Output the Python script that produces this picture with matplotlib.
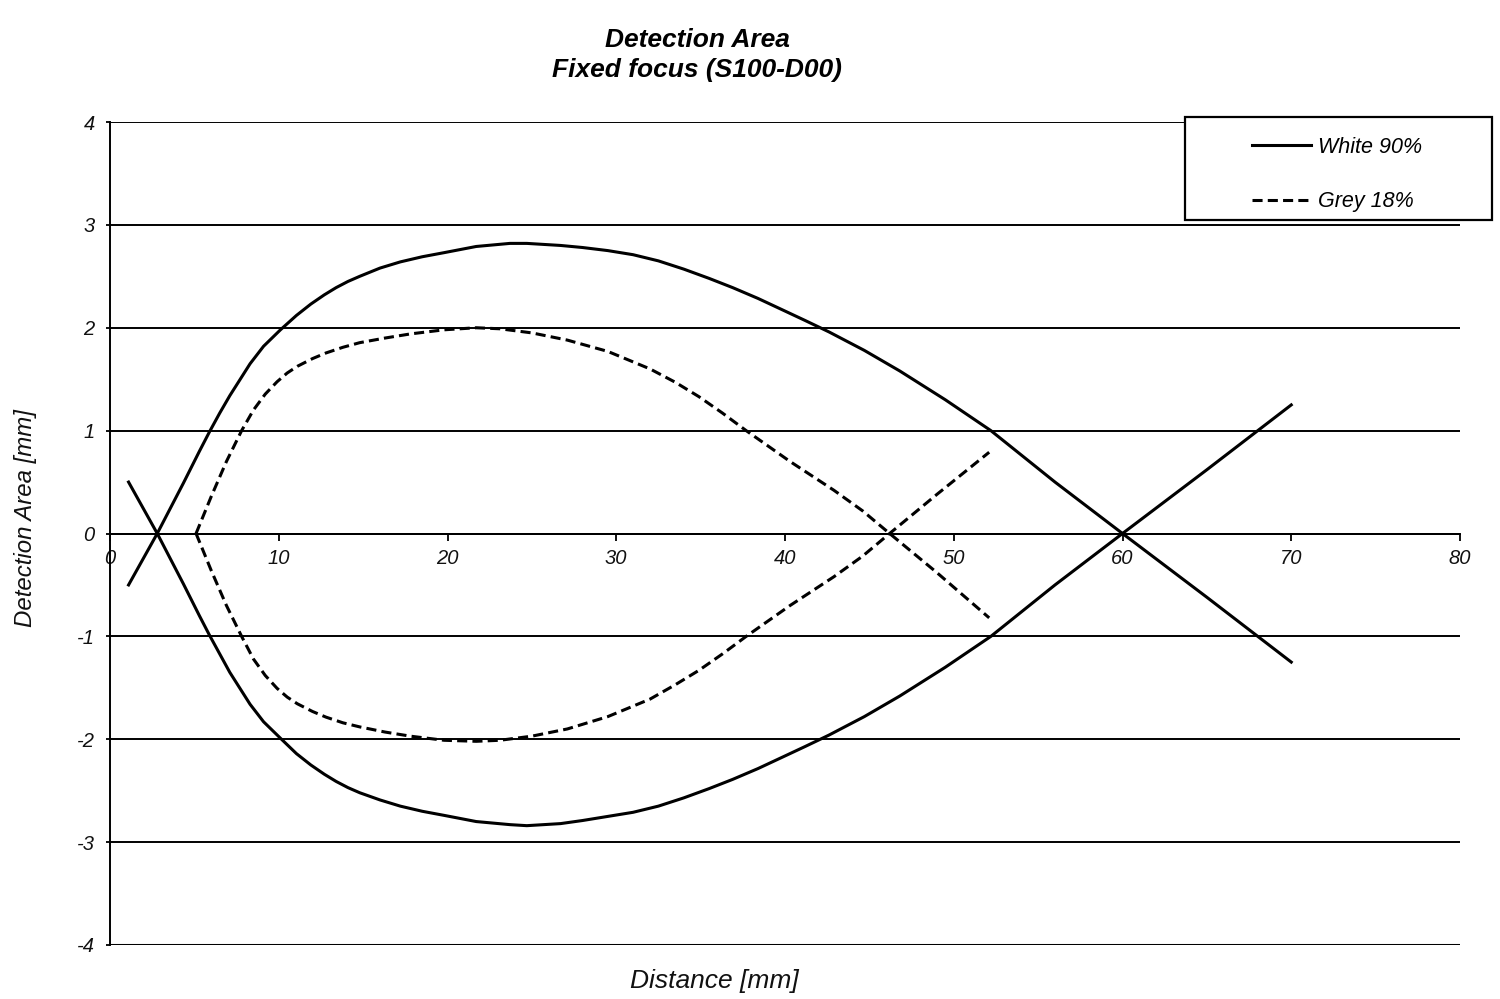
import matplotlib.pyplot as plt
from matplotlib.patches import Rectangle

plt.rcParams['font.family'] = ['Liberation Sans', 'DejaVu Sans']
plt.rcParams['font.style'] = 'italic'
plt.rcParams['axes.unicode_minus'] = False

# White 90% - upper branch (ends below zero) and lower branch (ends above zero)
white_x = [1.1, 2.8, 4.35, 5.3, 5.9, 6.5, 7.1, 8.3, 9.1, 10.1, 11.05, 11.9, 12.7,
           13.4, 14.1, 14.8, 16.0, 17.2, 18.5, 19.8, 21.7, 23.7, 24.7, 26.7, 28.0,
           29.5, 31.0, 32.5, 34.0, 35.5, 36.9, 38.4, 39.9, 41.2, 42.6, 44.7, 46.8,
           49.5, 52.2, 56.0, 60.0, 65.0, 70.0]
white_up_y = [-0.5, 0.0, 0.49, 0.80, 0.99, 1.17, 1.34, 1.65, 1.82, 1.98, 2.12, 2.23, 2.32,
              2.39, 2.45, 2.50, 2.58, 2.64, 2.69, 2.73, 2.79, 2.82, 2.82, 2.80, 2.78,
              2.75, 2.71, 2.65, 2.57, 2.48, 2.39, 2.285, 2.17, 2.07, 1.96, 1.78, 1.58,
              1.30, 1.0, 0.5, 0.0, -0.62, -1.25]
white_lo_y = [0.5, 0.0, -0.49, -0.80, -0.99, -1.17, -1.35, -1.66, -1.83, -1.99, -2.14, -2.25, -2.34,
              -2.41, -2.47, -2.52, -2.59, -2.65, -2.70, -2.74, -2.80, -2.83, -2.84, -2.82, -2.79,
              -2.75, -2.71, -2.65, -2.57, -2.48, -2.39, -2.285, -2.17, -2.07, -1.96, -1.78, -1.58,
              -1.30, -1.0, -0.5, 0.0, 0.62, 1.25]

# Grey 18% - upper and lower branch
grey_x = [5.1, 6.0, 6.9, 7.8, 8.5, 9.2, 9.9, 10.5, 11.1, 12.0, 12.8, 13.8,
          14.8, 16.3, 17.8, 19.8, 21.7, 23.1, 25.0, 27.1, 29.5, 32.0, 33.5,
          34.9, 36.3, 37.7, 39.0, 40.3, 41.6, 42.9, 44.6, 46.2, 49.0, 52.1]
grey_up_y = [0.0, 0.36, 0.70, 1.0, 1.2, 1.355, 1.475, 1.56, 1.625, 1.70, 1.755, 1.81,
             1.855, 1.90, 1.94, 1.98, 2.0, 1.99, 1.95, 1.88, 1.77, 1.60, 1.47,
             1.33, 1.17, 1.0, 0.85, 0.70, 0.56, 0.42, 0.22, 0.0, -0.38, -0.82]
grey_lo_y = [0.0, -0.36, -0.70, -1.0, -1.22, -1.38, -1.505, -1.59, -1.655, -1.73, -1.785, -1.84,
             -1.88, -1.93, -1.97, -2.01, -2.02, -2.01, -1.97, -1.90, -1.78, -1.61, -1.47,
             -1.33, -1.17, -1.0, -0.85, -0.70, -0.56, -0.42, -0.22, 0.0, 0.38, 0.79]

x_ticks = [0, 10, 20, 30, 40, 50, 60, 70, 80]
y_ticks = [-4, -3, -2, -1, 0, 1, 2, 3, 4]

fig = plt.figure(figsize=(15, 9.99), dpi=100)
ax = fig.add_axes([110 / 1500, 54 / 999, 1350 / 1500, 823 / 999])

dash = (0, (3.3, 1.7))
l1, = ax.plot(white_x, white_up_y, color='black', lw=2.2,
              solid_joinstyle='round', label='White 90%', zorder=3)
ax.plot(white_x, white_lo_y, color='black', lw=2.2,
        solid_joinstyle='round', zorder=3)
l2, = ax.plot(grey_x, grey_up_y, color='black', lw=2.2,
              linestyle=dash, label='Grey 18%', zorder=3)
ax.plot(grey_x, grey_lo_y, color='black', lw=2.2, linestyle=dash, zorder=3)

ax.set_xlim(0, 80)
ax.set_ylim(-4, 4)
ax.set_xticks(x_ticks)
ax.set_yticks(y_ticks)

ax.yaxis.grid(True, color='black', lw=1.4)
ax.axhline(-4, color='black', lw=2.2, zorder=2)
ax.set_axisbelow(True)
ax.spines['top'].set_visible(False)
ax.spines['right'].set_visible(False)
ax.spines['bottom'].set_position(('data', 0))
ax.spines['bottom'].set_linewidth(1.4)
ax.spines['left'].set_linewidth(1.4)

ax.tick_params(axis='x', direction='out', length=5, width=1.4, pad=6,
               labelsize=14.5, colors='#111111')
ax.tick_params(axis='y', direction='out', length=3, width=1.4, pad=8,
               labelsize=14.5, colors='#111111')

ax.set_xlabel('Distance [mm]', fontsize=19, color='#111111')
ax.xaxis.set_label_coords((714 - 110) / 1350, (945 - 981) / 823)
ax.xaxis.label.set_va('center')
ax.set_ylabel('Detection Area [mm]', fontsize=17.3, color='#111111')
ax.yaxis.set_label_coords((26 - 110) / 1350, (945 - 518) / 823)
ax.yaxis.label.set_va('center')

fig.text(697 / 1500, 1 - 40 / 999, 'Detection Area', ha='center', va='center',
         fontsize=19, fontweight='bold')
fig.text(697 / 1500, 1 - 70 / 999, 'Fixed focus (S100-D00)', ha='center',
         va='center', fontsize=19, fontweight='bold')

# legend box
fig.add_artist(Rectangle((1185 / 1500, 1 - 220 / 999), (1492 - 1185) / 1500,
                         (220 - 117) / 999, transform=fig.transFigure,
                         facecolor='white', edgecolor='black', lw=1.6, zorder=1))
fig.legend(handles=[l1, l2], loc='upper left',
           bbox_to_anchor=(1252 / 1500, 1 - 137 / 999),
           bbox_transform=fig.transFigure, frameon=False, borderpad=0,
           borderaxespad=0, handlelength=2.75, handletextpad=0.3,
           labelspacing=1.55, fontsize=15.5)

fig.savefig('out.png', dpi=100)
